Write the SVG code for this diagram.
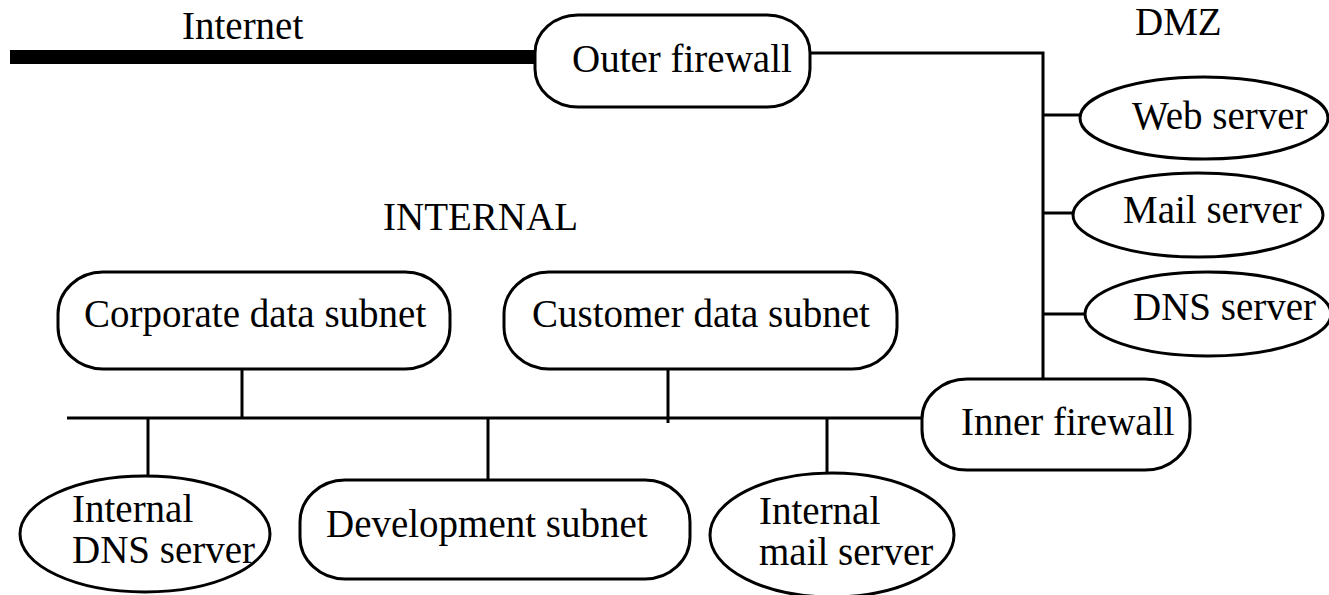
<svg xmlns="http://www.w3.org/2000/svg" width="1329" height="595" viewBox="0 0 1329 595">
<style>
  .box { fill: #fff; stroke: #000; stroke-width: 3; }
  .ln { stroke: #000; stroke-width: 3; fill: none; }
  .thick { stroke: #000; stroke-width: 14; fill: none; }
  text { font-family: "Liberation Serif", "Times New Roman", serif; font-size: 39px; fill: #000; }
</style>
<rect width="1329" height="595" fill="#fff"/>
<g id="connectors">
  <line class="thick" x1="10" y1="57" x2="537" y2="57"/>
  <polyline class="ln" points="810,53 1043,53 1043,379"/>
  <line class="ln" x1="1043" y1="115" x2="1081" y2="115"/>
  <line class="ln" x1="1043" y1="213" x2="1074" y2="213"/>
  <line class="ln" x1="1043" y1="314" x2="1086" y2="314"/>
  <line class="ln" x1="67" y1="418" x2="922" y2="418"/>
  <line class="ln" x1="242" y1="369" x2="242" y2="418"/>
  <line class="ln" x1="668" y1="369" x2="668" y2="423"/>
  <line class="ln" x1="148" y1="418" x2="148" y2="476"/>
  <line class="ln" x1="488" y1="418" x2="488" y2="480"/>
  <line class="ln" x1="827" y1="418" x2="827" y2="473"/>
</g>
<g id="labels">
  <text x="182" y="39">Internet</text>
  <text x="1135" y="35">DMZ</text>
  <text x="383" y="230">INTERNAL</text>
</g>
<g id="outer-firewall">
  <rect class="box" x="535" y="15" width="275" height="92" rx="43" ry="38"/>
  <text x="572" y="72">Outer firewall</text>
</g>
<g id="web-server">
  <ellipse class="box" cx="1204" cy="118" rx="124" ry="41"/>
  <text x="1132" y="129">Web server</text>
</g>
<g id="mail-server">
  <ellipse class="box" cx="1198" cy="215" rx="125" ry="42"/>
  <text x="1123" y="223">Mail server</text>
</g>
<g id="dns-server">
  <ellipse class="box" cx="1208" cy="314" rx="123" ry="42"/>
  <text x="1133" y="320">DNS server</text>
</g>
<g id="corporate-data-subnet">
  <rect class="box" x="58" y="272" width="392" height="97" rx="45" ry="42"/>
  <text x="84" y="327">Corporate data subnet</text>
</g>
<g id="customer-data-subnet">
  <rect class="box" x="504" y="272" width="393" height="97" rx="45" ry="42"/>
  <text x="532" y="327">Customer data subnet</text>
</g>
<g id="inner-firewall">
  <rect class="box" x="922" y="379" width="268" height="91" rx="45" ry="40"/>
  <text x="961" y="435">Inner firewall</text>
</g>
<g id="internal-dns-server">
  <ellipse class="box" cx="145" cy="534" rx="125" ry="58"/>
  <text x="72" y="522">Internal</text>
  <text x="72" y="563">DNS server</text>
</g>
<g id="development-subnet">
  <rect class="box" x="300" y="480" width="390" height="99" rx="45" ry="42"/>
  <text x="326" y="537">Development subnet</text>
</g>
<g id="internal-mail-server">
  <ellipse class="box" cx="832" cy="535" rx="122" ry="62"/>
  <text x="759" y="524">Internal</text>
  <text x="759" y="565">mail server</text>
</g>
</svg>
